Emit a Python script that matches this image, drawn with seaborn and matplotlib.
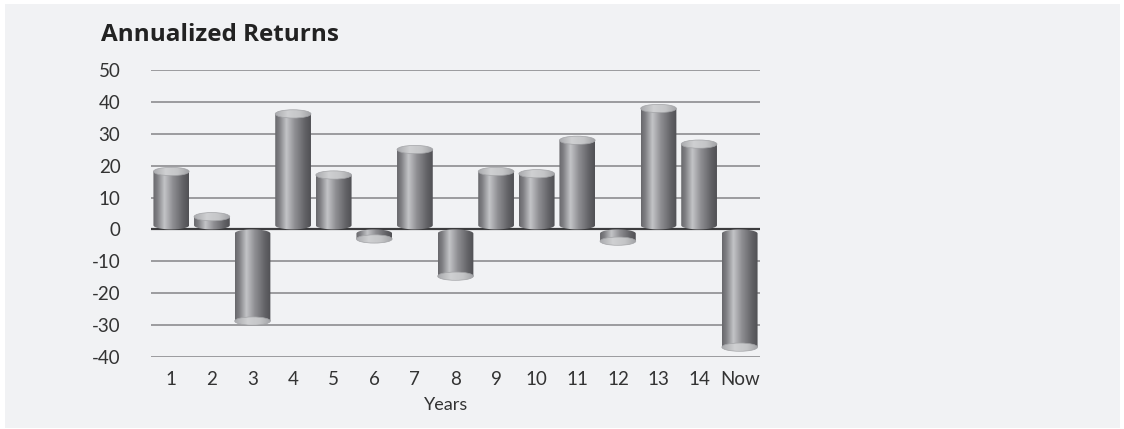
import numpy as np
import pandas as pd
import matplotlib
matplotlib.use("Agg")
import matplotlib.pyplot as plt
from matplotlib.colors import LinearSegmentedColormap
from matplotlib.patches import Ellipse, PathPatch, Rectangle
from matplotlib.path import Path
import seaborn as sns

# ---- data ----
years = ["1", "2", "3", "4", "5", "6", "7", "8", "9", "10", "11", "12", "13", "14", "Now"]
returns = [18.2, 4.0, -28.8, 36.3, 17.1, -3.0, 25.1, -14.7, 18.2, 17.5, 28.0, -3.7, 38.0, 26.8, -37.0]
y_ticks = [-40, -30, -20, -10, 0, 10, 20, 30, 40, 50]
title = "Annualized Returns"
x_label = "Years"

sns.set_style("white")
plt.rcParams["font.family"] = ["Lato", "DejaVu Sans"]

W, H = 1124, 429
fig = plt.figure(figsize=(W / 100, H / 100), dpi=100, facecolor="white")
# grey panel
fig.patches.append(Rectangle((5 / W, 1 / H), (1120 - 5) / W, (428 - 4) / H,
                             transform=fig.transFigure, facecolor="#f1f2f4",
                             edgecolor="none", zorder=-10))

ax_l, ax_r = 151 / W, 760 / W
ax_t, ax_b = 1 - 70.3 / H, 1 - 356.7 / H
ax = fig.add_axes([ax_l, ax_b, ax_r - ax_l, ax_t - ax_b])
ax.set_facecolor("none")

df = pd.DataFrame({"year": years, "ret": returns})
sns.barplot(data=df, x="year", y="ret", order=years, width=0.88, color="#888888",
            ax=ax, errorbar=None)

body_cmap = LinearSegmentedColormap.from_list(
    "cyl", [(0.0, "#67676b"), (0.12, "#808084"), (0.32, "#c3c4c7"),
            (0.55, "#8f8f93"), (0.85, "#606064"), (1.0, "#505054")])
cap_cmap = LinearSegmentedColormap.from_list(
    "cap", [(0.0, "#a9aaad"), (0.35, "#cfd0d2"), (0.7, "#c4c5c7"), (1.0, "#a2a3a6")])
grad = np.linspace(0, 1, 256).reshape(1, -1)

rr = 1.3  # vertical semi-axis of cylinder ends (data units)
for p in list(ax.patches):
    x0 = p.get_x()
    w = p.get_width()
    v = p.get_height()
    cx = x0 + w / 2
    p.set_visible(False)
    if v >= 0:
        tt = np.linspace(np.pi, 2 * np.pi, 60)
        arc = np.column_stack([cx + (w / 2) * np.cos(tt), rr + rr * np.sin(tt)])
        verts = np.vstack([arc, [[x0 + w, v], [x0, v], arc[0]]])
        ylo, yhi = 0, v
    else:
        tt = np.linspace(0, np.pi, 60)
        arc = np.column_stack([cx + (w / 2) * np.cos(tt), -rr + rr * np.sin(tt)])
        verts = np.vstack([arc, [[x0, v], [x0 + w, v], arc[0]]])
        ylo, yhi = v, 0
    codes = [Path.MOVETO] + [Path.LINETO] * (len(verts) - 2) + [Path.CLOSEPOLY]
    body = PathPatch(Path(verts, codes), facecolor="none", edgecolor="none",
                     transform=ax.transData)
    ax.add_patch(body)
    im = ax.imshow(grad, cmap=body_cmap, extent=[x0, x0 + w, ylo - 0.1, yhi + 0.1],
                   aspect="auto", interpolation="bilinear", zorder=2, origin="lower")
    im.set_clip_path(body)
    cap = Ellipse((cx, v), w, 2 * rr, facecolor="none", edgecolor="#a3a4a7",
                  lw=0.5, zorder=3.1)
    ax.add_patch(cap)
    im2 = ax.imshow(grad, cmap=cap_cmap, extent=[x0, x0 + w, v - rr, v + rr],
                    aspect="auto", interpolation="bilinear", zorder=3, origin="lower")
    im2.set_clip_path(cap)

ax.axhline(0, color="#3c3c3e", lw=1.6, zorder=1)
ax.set_xlim(-0.5, len(years) - 0.5)
ax.set_ylim(-40, 50)
ax.set_yticks(y_ticks)
ax.set_yticklabels([str(t) for t in y_ticks])
ax.yaxis.grid(True, color="#8d8d90", lw=1.2)
ax.xaxis.grid(False)
ax.set_axisbelow(True)
for s in ax.spines.values():
    s.set_visible(False)
ax.tick_params(axis="y", length=0, pad=22, labelsize=13.5, labelcolor="#333333")
ax.tick_params(axis="x", length=0, pad=10, labelsize=13.5, labelcolor="#333333")
ax.set_ylabel("")
ax.set_xlabel(x_label, fontsize=13, color="#333333")
ax.xaxis.label.set_position(((446 - 151) / 609, 0))
ax.xaxis.labelpad = 7

fig.text(101 / W, 1 - 40.7 / H, title, fontsize=17.5, fontweight="bold",
         family=["Open Sans", "DejaVu Sans"], color="#222222", va="baseline", ha="left")

fig.savefig("out.png", dpi=100, facecolor=fig.get_facecolor())
